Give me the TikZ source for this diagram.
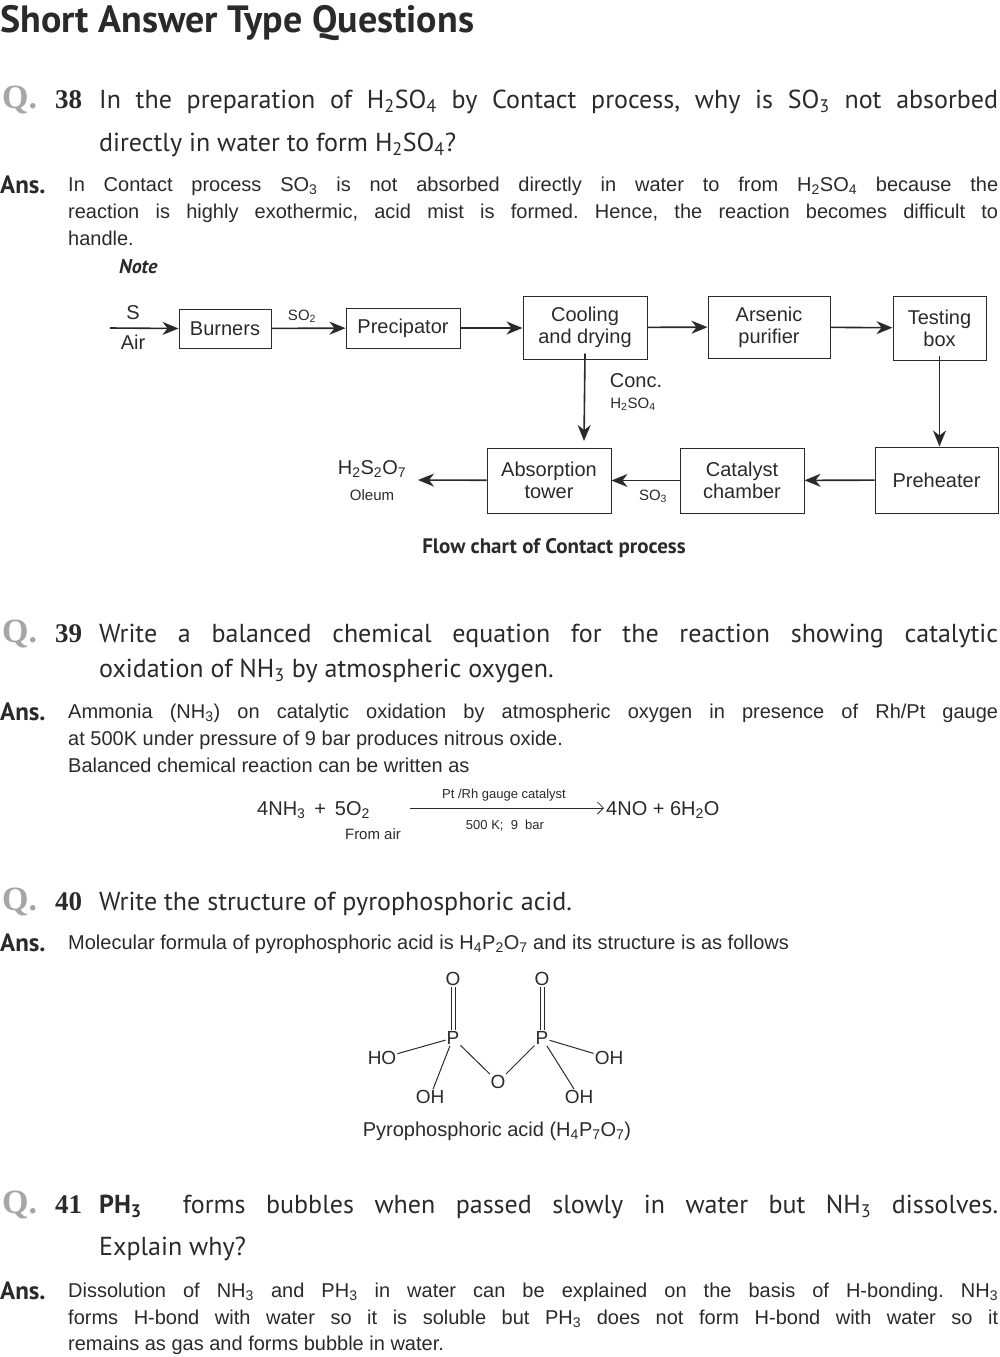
\documentclass[tikz,border=0pt]{standalone}
\usepackage{fontspec}
\setmainfont{Liberation Sans}
\newfontfamily\qfont{PT Sans}
\newfontfamily\hfont{PT Sans}
\newfontfamily\serifq{Liberation Serif}
\usetikzlibrary{arrows.meta}
\definecolor{ink}{HTML}{2A2A2A}
\newcommand{\sub}[1]{\textsubscript{#1}}
\newcommand{\Qline}[1]{\makebox[899pt][s]{#1}}
\newcommand{\Aline}[1]{\makebox[930pt][s]{#1}}
\frenchspacing
\begin{document}
\begin{tikzpicture}[x=1pt,y=-1pt,
  qtext/.style={anchor=base west,inner sep=0,font=\qfont\fontsize{26}{30}\selectfont,text=ink},
  qmark/.style={anchor=base west,inner sep=0,font=\serifq\bfseries\fontsize{34}{36}\selectfont,text=gray!70},
  qnum/.style={anchor=base west,inner sep=0,font=\serifq\bfseries\fontsize{27}{30}\selectfont,text=ink},
  anslbl/.style={anchor=base west,inner sep=0,font=\hfont\bfseries\fontsize{25}{28}\selectfont,text=ink},
  atext/.style={anchor=base west,inner sep=0,font=\fontsize{20}{24}\selectfont,text=ink},
  fbox/.style={draw=ink,line width=1pt,minimum height=#1,align=center,font=\fontsize{20}{22}\selectfont,text=ink,inner sep=2pt},
  lbl/.style={inner sep=0,font=\fontsize{20}{22}\selectfont,text=ink,align=center},
  small/.style={inner sep=0,font=\fontsize{15}{17}\selectfont,text=ink},
  arr/.style={draw=ink,line width=1.6pt,-{Stealth[length=16pt,width=13pt,inset=5pt]}},
  bond/.style={draw=ink,line width=1pt}]
\useasboundingbox (0,0) rectangle (999,1357);
\node[anchor=base west,inner sep=0,font=\hfont\bfseries\fontsize{38}{40}\selectfont,text=ink] (title) at (0,32) {Short Answer Type Questions};
% Q38
\node[qmark] (q38) at (2,108) {Q.};
\node[qnum] (n38) at (55,108) {38};
\node[qtext] (q38a) at (99,108) {\Qline{In the preparation of H\sub{2}SO\sub{4} by Contact process, why is SO\sub{3} not absorbed}};
\node[qtext] (q38b) at (99,151) {directly in water to form H\sub{2}SO\sub{4}?};
\node[anslbl] (a38) at (0,193) {Ans.};
\node[atext] (a38a) at (68,191) {\Aline{In Contact process SO\sub{3} is not absorbed directly in water to from H\sub{2}SO\sub{4} because the}};
\node[atext] (a38b) at (68,218) {\Aline{reaction is highly exothermic, acid mist is formed. Hence, the reaction becomes difficult to}};
\node[atext] (a38c) at (68,245) {handle.};
\node[anchor=base west,inner sep=0,font=\hfont\bfseries\itshape\fontsize{20}{22}\selectfont,text=ink] (note) at (119,273) {Note};
% flow chart
\node[fbox=39pt,minimum width=92pt] (burn) at (225,328.5) {Burners};
\node[fbox=40pt,minimum width=114pt] (prec) at (403,328) {Precipator};
\node[fbox=63pt,minimum width=124pt] (cool) at (585,327.5) {Cooling\\and drying};
\node[fbox=62pt,minimum width=122pt] (ars) at (769,327) {Arsenic\\purifier};
\node[fbox=64pt,minimum width=93pt] (test) at (939.5,328) {Testing\\box};
\node[fbox=66pt,minimum width=123pt] (pre) at (936.5,480) {Preheater};
\node[fbox=65pt,minimum width=124pt] (cat) at (742,480.5) {Catalyst\\chamber};
\node[fbox=65pt,minimum width=124pt] (abs) at (549,480.5) {Absorption\\tower};
\node[lbl] (s) at (133,313) {S};
\node[lbl] (air) at (133,342) {Air};
\coordinate (in) at (110,328);
\node[small] (so2) at (302,316) {SO\sub{2}};
\node[lbl] (conc) at (636,381) {Conc.};
\node[small] (hso) at (633,404) {H\sub{2}SO\sub{4}};
\node[small] (so3) at (653,496) {SO\sub{3}};
\node[lbl] (ole) at (372,469) {H\sub{2}S\sub{2}O\sub{7}};
\node[small] (oleum) at (372,495) {Oleum};
\coordinate (oend) at (418,480);
\coordinate (cdown) at (584,441);
\draw[arr] (in) -- (burn.west);
\draw[arr] (burn) -- (prec);
\draw[arr] (prec) -- (prec.east -| cool.west);
\draw[arr] (cool) -- (ars);
\draw[arr] (ars) -- (test);
\draw[arr] ([yshift=5pt]test.south) -- (pre.north -| test.south);
\draw[arr] ([yshift=6pt]cool.south) -- (cdown);
\draw[arr] (pre) -- (cat);
\draw[arr] (cat) -- (abs);
\draw[arr] (abs) -- (oend);
\node[inner sep=0,font=\hfont\bfseries\fontsize{21}{24}\selectfont,text=ink] (cap) at (554,548) {Flow chart of Contact process};
% Q39
\node[qmark] (q39) at (2,642) {Q.};
\node[qnum] (n39) at (55,642) {39};
\node[qtext] (q39a) at (99,642) {\Qline{Write a balanced chemical equation for the reaction showing catalytic}};
\node[qtext] (q39b) at (99,677) {oxidation of NH\sub{3} by atmospheric oxygen.};
\node[anslbl] (a39) at (0,720) {Ans.};
\node[atext] (a39a) at (68,718) {\Aline{Ammonia (NH\sub{3}) on catalytic oxidation by atmospheric oxygen in presence of Rh/Pt gauge}};
\node[atext] (a39b) at (68,745) {at 500K under pressure of 9 bar produces nitrous oxide.};
\node[atext] (a39c) at (68,772) {Balanced chemical reaction can be written as};
\node[atext] (eql) at (257,815) {4NH\sub{3} \,+\, 5O\sub{2}};
\node[small] (fair) at (373,834) {From air};
\coordinate (ea) at (410,808);
\coordinate (eb) at (604,808);
\draw[draw=ink,line width=0.8pt,-{Straight Barb[length=6pt]}] (ea) -- (eb);
\node[inner sep=0,font=\fontsize{13}{15}\selectfont,text=ink] (cat1) at (504,795) {Pt /Rh gauge catalyst};
\node[inner sep=0,font=\fontsize{13}{15}\selectfont,text=ink] (cat2) at (505,826) {500 K;\ \ 9\ \ bar};
\node[atext] (eqr) at (606,815) {4NO + 6H\sub{2}O};
% Q40
\node[qmark] (q40) at (2,910) {Q.};
\node[qnum] (n40) at (55,910) {40};
\node[qtext] (q40a) at (99,910) {Write the structure of pyrophosphoric acid.};
\node[anslbl] (a40) at (0,951) {Ans.};
\node[atext] (a40a) at (68,949) {Molecular formula of pyrophosphoric acid is H\sub{4}P\sub{2}O\sub{7} and its structure is as follows};
\begin{scope}[every node/.style={inner sep=1pt,font=\fontsize{19}{20}\selectfont,text=ink}]
\node (o1) at (453,979) {O};
\node (o2) at (542,979) {O};
\node (p1) at (453,1038) {P};
\node (p2) at (542,1038) {P};
\node (ho) at (382,1058) {HO};
\node (oh1) at (609,1058) {OH};
\node (ob) at (498,1082) {O};
\node (oh2) at (430,1097) {OH};
\node (oh3) at (579,1097) {OH};
\end{scope}
\draw[bond,double,double distance=3pt] (o1) -- (p1);
\draw[bond,double,double distance=3pt] (o2) -- (p2);
\draw[bond] (p1) -- (ho);
\draw[bond] (p1) -- (oh2);
\draw[bond] (p1) -- (ob);
\draw[bond] (ob) -- (p2);
\draw[bond] (p2) -- (oh1);
\draw[bond] (p2) -- (oh3);
\node[inner sep=0,font=\fontsize{20}{22}\selectfont,text=ink] (pcap) at (497,1131) {Pyrophosphoric acid (H\sub{4}P\sub{7}O\sub{7})};
% Q41
\node[qmark] (q41) at (2,1213) {Q.};
\node[qnum] (n41) at (55,1213) {41};
\node[qtext] (q41a) at (99,1213) {\Qline{\textbf{PH\sub{3}}\ \ forms bubbles when passed slowly in water but NH\sub{3} dissolves.}};
\node[qtext] (q41b) at (99,1255) {Explain why?};
\node[anslbl] (a41) at (0,1299) {Ans.};
\node[atext] (a41a) at (68,1297) {\Aline{Dissolution of NH\sub{3} and PH\sub{3} in water can be explained on the basis of H-bonding. NH\sub{3}}};
\node[atext] (a41b) at (68,1324) {\Aline{forms H-bond with water so it is soluble but PH\sub{3} does not form H-bond with water so it}};
\node[atext] (a41c) at (68,1350) {remains as gas and forms bubble in water.};
\end{tikzpicture}
\end{document}
